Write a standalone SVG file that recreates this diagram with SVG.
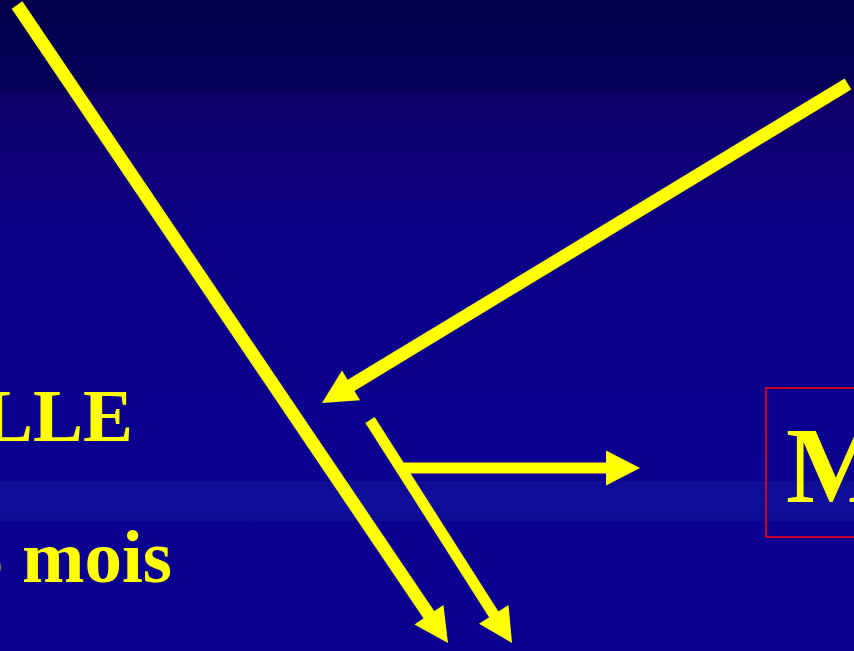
<svg xmlns="http://www.w3.org/2000/svg" width="854" height="651" viewBox="0 0 854 651">
  <defs>
    <linearGradient id="bg" x1="0" y1="0" x2="0" y2="1">
      <stop offset="0" stop-color="#00004a"/>
      <stop offset="0.14" stop-color="#06005a"/>
      <stop offset="0.15" stop-color="#10006a"/>
      <stop offset="0.38" stop-color="#0c0088"/>
      <stop offset="0.7" stop-color="#0c0090"/>
      <stop offset="1" stop-color="#0c0090"/>
    </linearGradient>
    <linearGradient id="band" x1="0" y1="0" x2="0" y2="1">
      <stop offset="0" stop-color="#0f0c96"/>
      <stop offset="0.5" stop-color="#10109a"/>
      <stop offset="1" stop-color="#0e0a94"/>
    </linearGradient>
    <marker id="head" markerUnits="userSpaceOnUse" markerWidth="36" markerHeight="36" viewBox="0 -18 35 36" refX="1" refY="0" orient="auto">
      <path d="M0,-17.5 L34,0 L0,17.5 Z" fill="#ffff00"/>
    </marker>
    <style>
      .arrow { stroke: #ffff00; fill: none; stroke-linecap: butt; marker-end: url(#head); }
      .txt { font-family: "Liberation Serif", "Times New Roman", serif; font-weight: bold; fill: #ffff00; }
    </style>
  </defs>
  <rect x="0" y="0" width="854" height="651" fill="url(#bg)"/>
  <rect x="0" y="481" width="854" height="40" fill="url(#band)"/>

  <g id="text-lle">
    <text class="txt" x="133" y="441" font-size="75" text-anchor="end">LLE</text>
  </g>
  <g id="text-mois">
    <text class="txt" x="172" y="582" font-size="75" text-anchor="end">5 mois</text>
  </g>
  <g id="node-m">
    <rect x="766" y="388" width="200" height="149" fill="none" stroke="#ff0000" stroke-width="1.5"/>
    <text class="txt" x="786" y="502" font-size="108">M</text>
  </g>

  <g id="connectors">
    <line class="arrow" x1="17" y1="5" x2="429.5" y2="615.6" stroke-width="13"/>
    <line class="arrow" x1="848" y1="84" x2="350.2" y2="385.9" stroke-width="13"/>
    <line class="arrow" x1="370" y1="420" x2="494.3" y2="615.2" stroke-width="11"/>
    <line class="arrow" x1="400" y1="468" x2="607" y2="468" stroke-width="11"/>
  </g>
</svg>
